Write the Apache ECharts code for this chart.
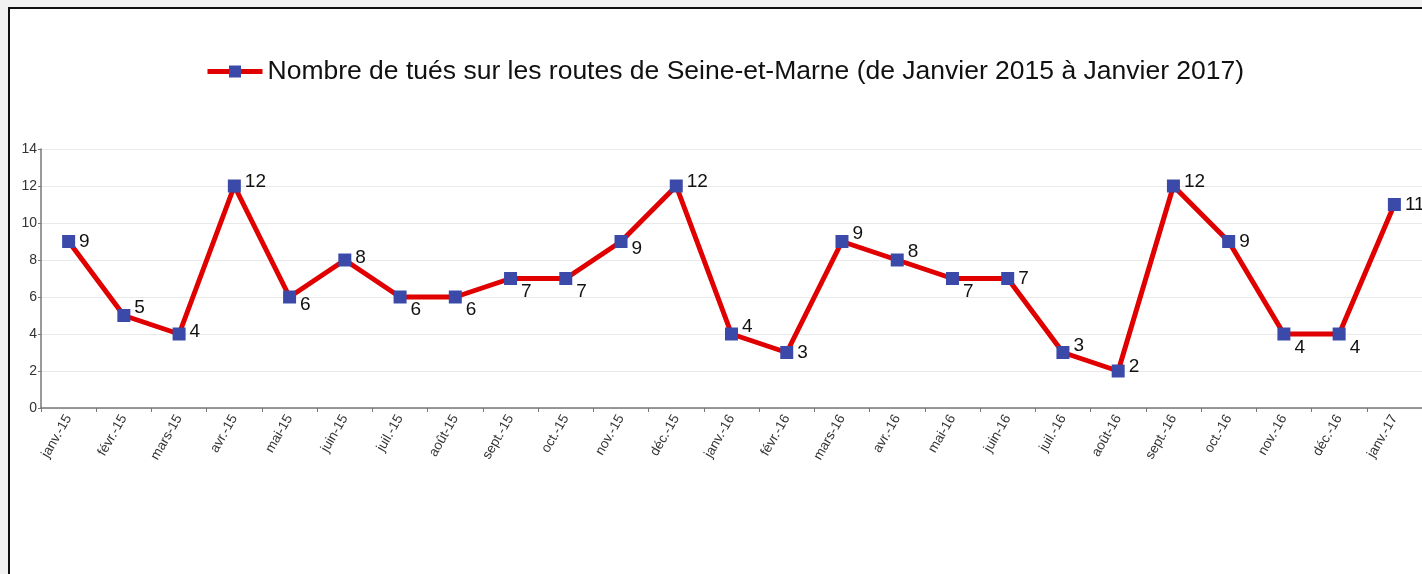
<!DOCTYPE html>
<html lang="fr">
  <head>
    <meta charset="utf-8">
    <title>Tués sur les routes de Seine-et-Marne</title>
    <script src="https://cdn.jsdelivr.net/npm/echarts@6/dist/echarts.min.js"></script>
    <style>
      html, body { margin: 0; padding: 0; background: #f2f2f2; overflow: hidden; }
      #main {
        position: absolute; left: 8px; top: 7px;
        width: 1412px; height: 565px;
        background: #fff;
        border-left: 2px solid #111; border-top: 2px solid #111;
      }
    </style>
  </head>
  <body>
    <div id="main"></div>
    <script type="text/javascript">
      // mois (janvier 2015 -> janvier 2017)
      var months = ['janv.-15', 'févr.-15', 'mars-15', 'avr.-15', 'mai-15', 'juin-15',
                    'juil.-15', 'août-15', 'sept.-15', 'oct.-15', 'nov.-15', 'déc.-15',
                    'janv.-16', 'févr.-16', 'mars-16', 'avr.-16', 'mai-16', 'juin-16',
                    'juil.-16', 'août-16', 'sept.-16', 'oct.-16', 'nov.-16', 'déc.-16',
                    'janv.-17'];
      var tues = [9, 5, 4, 12, 6, 8, 6, 6, 7, 7, 9, 12, 4, 3, 9, 8, 7, 7, 3, 2, 12, 9, 4, 4, 11];
      var yTicks = [0, 2, 4, 6, 8, 10, 12, 14];
      var seriesName = 'Nombre de tués sur les routes de Seine-et-Marne (de Janvier 2015 à Janvier 2017)';

      // décalage vertical des étiquettes (comme dans le graphique Excel)
      var labelDy = [0, -8, -2, -4, 8, -2, 13, 13, 13, 13, 7, -4,
                     -7, 0, -8, -8, 13, 0, -7, -4, -4, 0, 14, 14, 0];

      var myChart = echarts.init(document.getElementById('main'));

      var points = tues.map(function (v, i) {
        return {
          value: v,
          label: { offset: [0, labelDy[i]] }
        };
      });

      var option = {
        animation: false,
        textStyle: { fontFamily: 'Liberation Sans, Arial, sans-serif' },
        legend: {
          data: [seriesName],
          left: 190,
          top: 44,
          itemWidth: 55,
          itemHeight: 15,
          itemGap: 5,
          lineStyle: { width: 5, color: '#e00000' },
          textStyle: { fontSize: 26.5, color: '#111' }
        },
        grid: { left: 31, right: -3, top: 140, bottom: 166, containLabel: false },
        xAxis: {
          type: 'category',
          data: months,
          boundaryGap: true,
          axisLine: { lineStyle: { color: '#777', width: 1.5 } },
          axisTick: { show: true, length: 4, lineStyle: { color: '#777' } },
          axisLabel: { rotate: 60, fontSize: 13.5, color: '#333', margin: 8 },
          splitLine: { show: false }
        },
        yAxis: {
          type: 'value',
          min: yTicks[0],
          max: yTicks[yTicks.length - 1],
          interval: 2,
          axisLine: { show: true, lineStyle: { color: '#777', width: 1.5 } },
          axisTick: { show: true, length: 3, lineStyle: { color: '#777' } },
          axisLabel: { fontSize: 14, color: '#333', margin: 4 },
          splitLine: { lineStyle: { color: '#e9e9e9', width: 1 } }
        },
        series: [{
          name: seriesName,
          type: 'line',
          data: points,
          symbol: 'rect',
          symbolSize: 13,
          lineStyle: { color: '#e00000', width: 5 },
          itemStyle: { color: '#3b4aa8', borderWidth: 0 },
          label: {
            show: true,
            position: 'right',
            distance: 4,
            fontSize: 19,
            color: '#111'
          }
        }]
      };

      myChart.setOption(option);
    </script>
  </body>
</html>
